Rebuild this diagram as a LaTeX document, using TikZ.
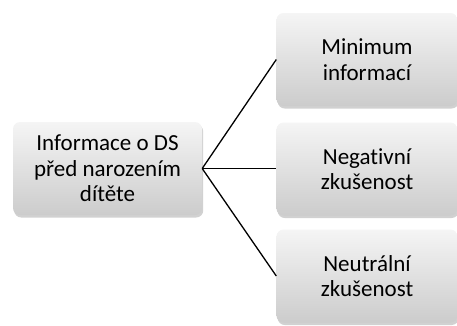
\documentclass[tikz,border=0pt]{standalone}
\usepackage{fontspec}
\setmainfont{Carlito}[Ligatures=NoCommon]
\usetikzlibrary{shadows}
\begin{document}
\begin{tikzpicture}[x=1pt,y=-1pt,
  box/.style={rounded corners=7pt, top color=white!96!black, bottom color=white!80!black,
    draw=none, align=center, font=\fontsize{23}{25.5}\selectfont, text=black,
    inner sep=0pt, minimum height=93pt,
    drop shadow={shadow xshift=1.2pt, shadow yshift=-2.5pt, opacity=0.3, fill=black!60}},
  conn/.style={draw=black, line width=1.3pt}]
\useasboundingbox (0,0) rectangle (457,325);
\node[box, minimum width=189pt] (src) at (107.5,168.5) {Informace o DS\\před narozením\\dítěte};
\node[box, minimum width=181pt] (a) at (367,59.5) {Minimum\\informací};
\node[box, minimum width=181pt] (b) at (367,169) {Negativní\\zkušenost};
\node[box, minimum width=181pt] (c) at (367,276) {Neutrální\\zkušenost};
\draw[conn] (src.east) -- (a.west);
\draw[conn] (src.east) -- (b.west |- src.east);
\draw[conn] (src.east) -- (c.west);
\end{tikzpicture}
\end{document}
